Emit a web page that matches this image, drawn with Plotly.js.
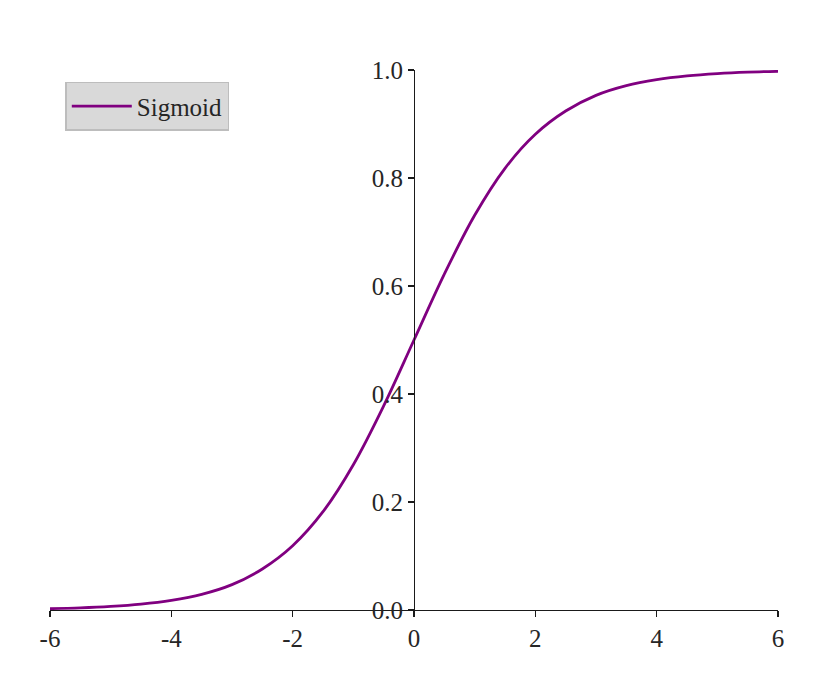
<!DOCTYPE html>
<html>
<head>
<meta charset="utf-8">
<script src="https://cdn.plot.ly/plotly-3.0.1.min.js"></script>
<style>html,body{margin:0;padding:0;background:#fff;}#chart{width:840px;height:676px;}</style>
</head>
<body>
<div id="chart"></div>
<script>
// Values
const xValues = [-6, -5.5, -5, -4.5, -4, -3.5, -3, -2.5, -2, -1.5, -1, -0.5, 0, 0.5, 1, 1.5, 2, 2.5, 3, 3.5, 4, 4.5, 5, 5.5, 6];
const sigmoidValues = [0.0025, 0.004, 0.0067, 0.011, 0.018, 0.029, 0.047, 0.076, 0.119, 0.182, 0.269, 0.378, 0.5, 0.622, 0.731, 0.818, 0.881, 0.924, 0.953, 0.971, 0.982, 0.989, 0.9933, 0.996, 0.9975];
const seriesName = 'Sigmoid';
const xTicks = [-6, -4, -2, 0, 2, 4, 6];
const yTicks = [0, 0.2, 0.4, 0.6, 0.8, 1.0];
const yTickText = ['0.0', '0.2', '0.4', '0.6', '0.8', '1.0'];

const fontFamily = '"Liberation Serif", "DejaVu Serif", serif';

const trace = {
  x: xValues,
  y: sigmoidValues,
  type: 'scatter',
  mode: 'lines',
  name: seriesName,
  line: {color: '#800080', width: 2.8, shape: 'spline', smoothing: 1}
};

const layout = {
  width: 840,
  height: 676,
  margin: {l: 50, r: 62, t: 70, b: 66},
  paper_bgcolor: '#ffffff',
  plot_bgcolor: '#ffffff',
  font: {family: fontFamily, size: 25, color: '#262626'},
  showlegend: true,
  legend: {
    x: 0.021, y: 0.978, xanchor: 'left', yanchor: 'top',
    bgcolor: '#d9d9d9', bordercolor: '#bdbdbd', borderwidth: 1.5,
    itemwidth: 60,
    font: {family: fontFamily, size: 25, color: '#262626'}
  },
  xaxis: {
    range: [-6, 6],
    tickvals: xTicks,
    ticktext: xTicks.map(String),
    showgrid: false, zeroline: false,
    showline: true, linecolor: '#1a1a1a', linewidth: 1.3,
    ticks: 'outside', ticklen: 6, tickwidth: 1.3, tickcolor: '#1a1a1a',
    anchor: 'y',
    tickfont: {family: fontFamily, size: 25, color: '#262626'}
  },
  yaxis: {
    range: [0, 1],
    tickvals: yTicks,
    ticktext: yTickText,
    showgrid: false, zeroline: false,
    showline: true, linecolor: '#1a1a1a', linewidth: 1.3,
    ticks: 'outside', ticklen: 6, tickwidth: 1.3, tickcolor: '#1a1a1a',
    anchor: 'free', position: 0.5,
    tickfont: {family: fontFamily, size: 25, color: '#262626'}
  }
};

Plotly.newPlot('chart', [trace], layout, {displayModeBar: false, staticPlot: true});
</script>
</body>
</html>
